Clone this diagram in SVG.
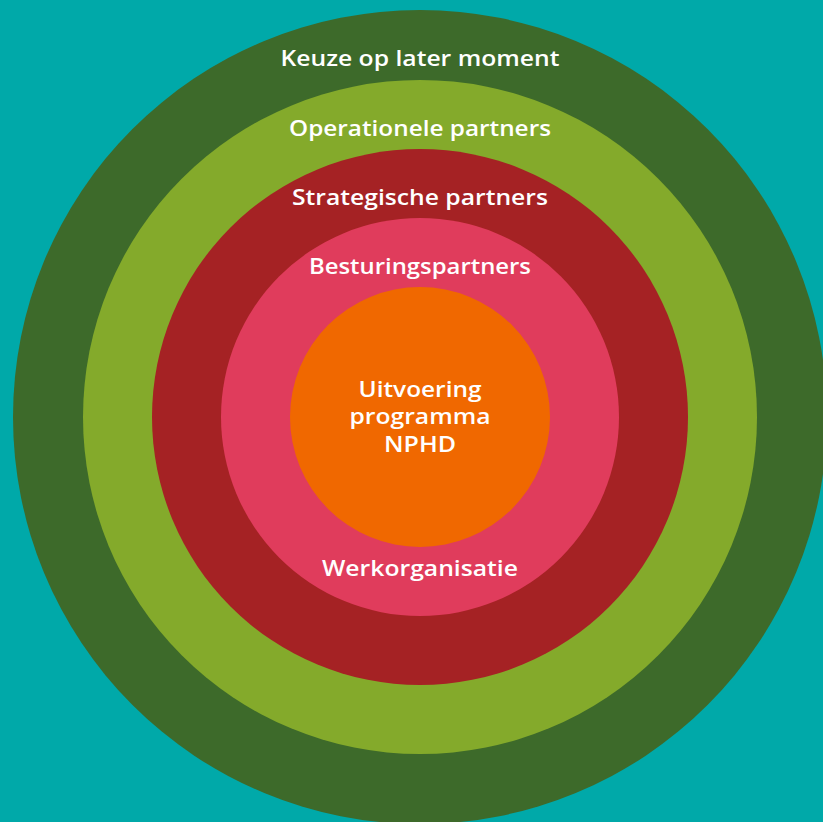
<svg xmlns="http://www.w3.org/2000/svg" width="823" height="822" viewBox="0 0 823 822">
<style>
text{font-family:"Open Sans","DejaVu Sans",sans-serif;font-weight:600;fill:#ffffff;text-anchor:middle;font-size:21px}
</style>
<rect x="0" y="0" width="823" height="822" fill="#00A9A9"/>
<g id="ring-keuze">
<circle cx="420" cy="417" r="407" fill="#3D6A2A"/>
<text x="420" y="66" textLength="279" lengthAdjust="spacingAndGlyphs">Keuze op later moment</text>
</g>
<g id="ring-operationele">
<circle cx="420" cy="417" r="337" fill="#84AA2B"/>
<text x="420" y="136" textLength="262" lengthAdjust="spacingAndGlyphs">Operationele partners</text>
</g>
<g id="ring-strategische">
<circle cx="420" cy="417" r="268" fill="#A52224"/>
<text x="420" y="205" textLength="256" lengthAdjust="spacingAndGlyphs">Strategische partners</text>
</g>
<g id="ring-besturing">
<circle cx="420" cy="417" r="199" fill="#E03C5C"/>
<text x="420" y="274" textLength="222" lengthAdjust="spacingAndGlyphs">Besturingspartners</text>
<text x="420" y="576" textLength="196" lengthAdjust="spacingAndGlyphs">Werkorganisatie</text>
</g>
<g id="core">
<circle cx="420" cy="417" r="130" fill="#F06800"/>
<text x="420" y="397" textLength="123" lengthAdjust="spacingAndGlyphs">Uitvoering</text>
<text x="420" y="424" textLength="141" lengthAdjust="spacingAndGlyphs">programma</text>
<text x="420" y="452" textLength="72" lengthAdjust="spacingAndGlyphs">NPHD</text>
</g>
<g id="connectors"></g>
</svg>
